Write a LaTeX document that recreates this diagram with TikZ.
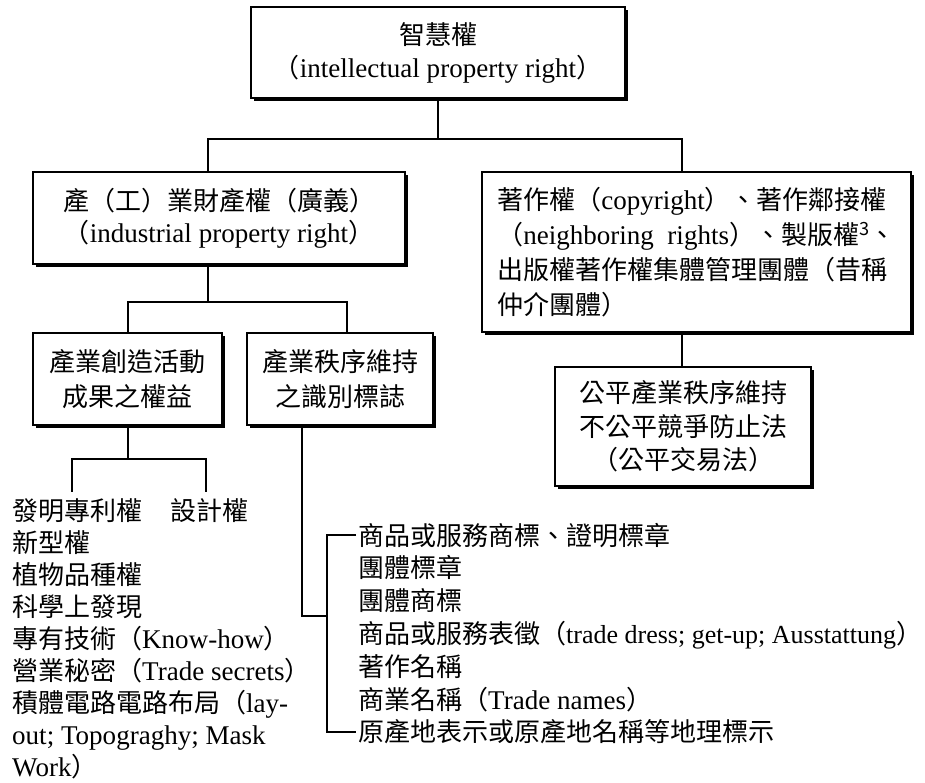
\documentclass[tikz,border=0pt]{standalone}
\usepackage{fontspec}
\setmainfont{Noto Sans CJK TC}
\newfontfamily\enfont[Scale=1.04]{Liberation Serif}
\newfontfamily\ensmall[Scale=1.0]{Liberation Serif}
\newcommand{\en}[1]{{\enfont #1}}
\newcommand{\ens}[1]{{\ensmall #1}}
\newcommand{\halfrp}{\makebox[12pt][l]{）}}
\usetikzlibrary{shadows}
\begin{document}
\begin{tikzpicture}[x=1pt,y=-1pt,
  box/.style={draw, line width=1.3pt, fill=white, inner sep=0pt, align=center,
    drop shadow={shadow xshift=3pt, shadow yshift=-3pt, opacity=1, fill=black}},
  conn/.style={line width=1.6pt},
  item/.style={inner sep=0pt, anchor=base west, font=\fontsize{26}{32}\selectfont}]
\useasboundingbox (0,0) rectangle (925,782);
\fill[white] (0,0) rectangle (925,782);

% boxes
\node[box, minimum width=374pt, minimum height=91pt, font=\fontsize{26}{33}\selectfont] (top) at (438,52.5)
  {智慧權\\（\en{intellectual property right}）};
\node[box, minimum width=372pt, minimum height=92pt, font=\fontsize{26}{32}\selectfont] (b2) at (219,218)
  {產（工）業財產權（廣義）\\（\en{industrial property right}）};
\node[box, minimum width=429pt, minimum height=160pt, align=left, font=\fontsize{26}{35}\selectfont] (b3) at (696.5,252)
  {著作權（\en{copyright}）、著作鄰接權\\
   （\en{neighboring\ \ rights}）、製版權\textsuperscript{3}、\\
   出版權著作權集體管理團體（昔稱\\
   仲介團體）};
\node[box, minimum width=256pt, minimum height=119pt, font=\fontsize{26}{33.5}\selectfont] (b4) at (683,426.5)
  {公平產業秩序維持\\不公平競爭防止法\\（公平交易法）};
\node[box, minimum width=189pt, minimum height=92pt, font=\fontsize{26}{35}\selectfont] (b5) at (127.5,379)
  {產業創造活動\\成果之權益};
\node[box, minimum width=186pt, minimum height=92pt, font=\fontsize{26}{35}\selectfont] (b6) at (340,379)
  {產業秩序維持\\之識別標誌};

% left list
\node[item] (inv) at (12,520) {發明專利權};
\node[item] (des) at (170,520) {設計權};
\foreach \t [count=\i from 2] in {{新型權},{植物品種權},{科學上發現},
  {專有技術（\en{Know-how}）},{營業秘密（\en{Trade secrets}）},
  {積體電路電路布局（\en{lay-}},{\en{out; Topograghy; Mask}},{\en{Work}）}}
  \node[item] (l\i) at (12,{520+32*(\i-1)}) {\t};

% right list
\foreach \t [count=\i] in {{商品或服務商標、證明標章},{團體標章},{團體商標},
  {商品或服務表徵（\ens{trade dress; get-up; Ausstattung}\halfrp},{著作名稱},
  {商業名稱（\en{Trade names}）},{原產地表示或原產地名稱等地理標示}}
  \node[item] (r\i) at (358,{545+32.8*(\i-1)}) {\t};

% connectors
\coordinate (cL) at (208,139);
\coordinate (cR) at (682,139);
\draw[conn] (top.south) -- (top.south |- cL);
\draw[conn] (b2.north -| cL) -- (cL) -- (cR) -- (b3.north -| cR);
\draw[conn] (b3.south -| cR) -- (b4.north -| cR);

\coordinate (m2) at (208,302);
\coordinate (m5) at (128,302);
\coordinate (m6) at (347,302);
\draw[conn] (b2.south -| m2) -- (m2);
\draw[conn] (b5.north -| m5) -- (m5) -- (m6) -- (b6.north -| m6);

\coordinate (p5) at (128,459);
\coordinate (pL) at (72,459);
\coordinate (pR) at (206,459);
\draw[conn] (b5.south -| p5) -- (p5);
\draw[conn] ([yshift=6pt]inv.north -| pL) -- (pL) -- (pR) -- ([yshift=6pt]des.north -| pR);

\coordinate (k6) at (302,616);
\coordinate (br) at (327,616);
\draw[conn] (b6.south -| k6) -- (k6) -- (br);
\draw[conn] ([xshift=-2pt]r1.west) -| (br) |- ([xshift=-2pt]r7.west);
\end{tikzpicture}
\end{document}
